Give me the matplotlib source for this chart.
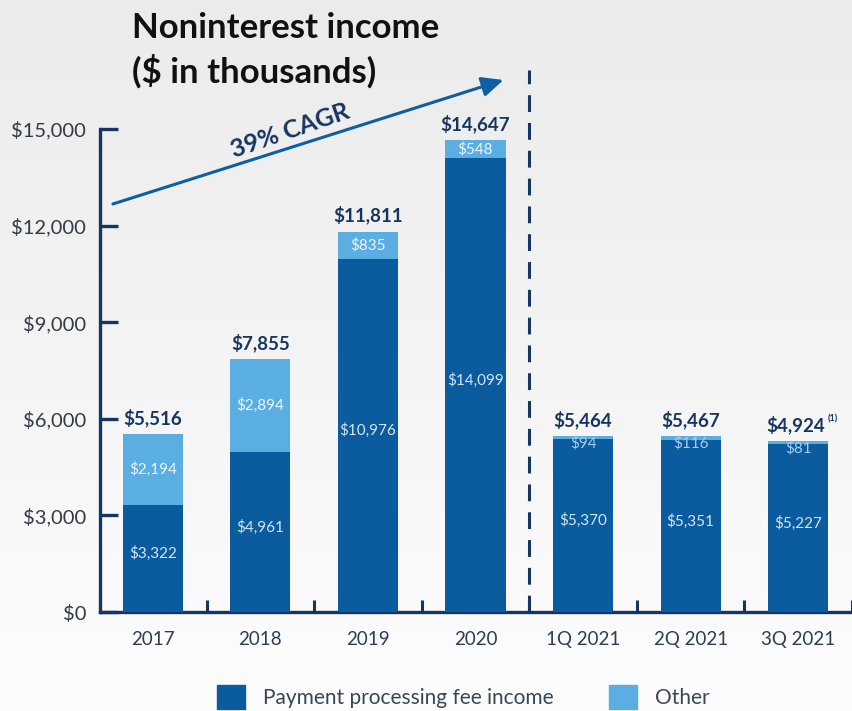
import matplotlib
matplotlib.use("Agg")
import matplotlib.pyplot as plt
import numpy as np
from matplotlib.patches import Patch
from matplotlib.colors import LinearSegmentedColormap

# ---- data ----
categories = ['2017', '2018', '2019', '2020', '1Q 2021', '2Q 2021', '3Q 2021']
payment = [3322, 4961, 10976, 14099, 5370, 5351, 5227]
other = [2194, 2894, 835, 548, 94, 116, 81]
total_labels = ['$5,516', '$7,855', '$11,811', '$14,647', '$5,464', '$5,467', '$4,924']
ytick_values = [0, 3000, 6000, 9000, 12000, 15000]
ytick_labels = ['$0', '$3,000', '$6,000', '$9,000', '$12,000', '$15,000']
legend_labels = ['Payment processing fee income', 'Other']
cagr_text = '39% CAGR'

plt.rcParams['font.family'] = ['Lato', 'DejaVu Sans']

DARK = '#0a5c9f'
LIGHT = '#5aaee2'
NAVY = '#17365f'
TICKTXT = '#333a44'

fig = plt.figure(figsize=(8.52, 7.11), dpi=100)

# background gradient
bg = fig.add_axes([0, 0, 1, 1], zorder=-10)
grad = np.linspace(0, 1, 256).reshape(-1, 1)
cmap = LinearSegmentedColormap.from_list('bg', ['#ebebeb', '#fdfdfd'])
bg.imshow(grad, aspect='auto', cmap=cmap, extent=[0, 1, 0, 1], origin='upper')
bg.set_axis_off()

ax = fig.add_axes([100 / 852, 1 - 612 / 711, 752 / 852, 542 / 711])
ax.patch.set_alpha(0)
x = np.arange(len(categories))
w = 0.56
ax.bar(x, payment, width=w, color=DARK, zorder=3)
ax.bar(x, other, width=w, bottom=payment, color=LIGHT, zorder=3)

ax.set_xlim(-0.49, 6.5)
ax.set_ylim(0, 16830)

for s in ['top', 'right']:
    ax.spines[s].set_visible(False)
for s in ['left', 'bottom']:
    ax.spines[s].set_color(NAVY)
    ax.spines[s].set_linewidth(2.4)
ax.spines['left'].set_bounds(0, 15000)

ax.set_yticks(ytick_values)
ax.set_yticklabels(ytick_labels, fontsize=14.5, color=TICKTXT)
ax.tick_params(axis='y', direction='in', length=13, width=2.4, color=NAVY, pad=10)

ax.set_xticks(x)
ax.set_xticklabels(categories, fontsize=13.5, color='#2f3d52')
ax.tick_params(axis='x', which='major', length=0, pad=14)
ax.set_xticks(np.arange(0.5, 6.6, 1.0), minor=True)
ax.tick_params(axis='x', which='minor', direction='in', length=9, width=2.2, color=NAVY)

# dashed separator
ax.axvline(3.5, ymin=0, ymax=1, color=NAVY, lw=2.2, dashes=(5.5, 3.6), zorder=4, clip_on=False)

# segment labels
for i in range(len(categories)):
    ax.text(x[i], payment[i] / 2 + 150, f'${payment[i]:,}', ha='center', va='center',
            fontsize=11, color='#d3e5f4', zorder=5)
    if other[i] > 400:
        ax.text(x[i], payment[i] + other[i] / 2, f'${other[i]:,}', ha='center', va='center',
                fontsize=11, color='#eef6fc', zorder=5)
    else:
        ax.annotate(f'${other[i]:,}', (x[i], payment[i] + other[i]), xytext=(0, -5),
                    textcoords='offset points', ha='center', va='center',
                    fontsize=11, color='#a8cdee', zorder=5)
    dx = -2 if i == len(categories) - 1 else 0
    ax.annotate(total_labels[i], (x[i], payment[i] + other[i]), xytext=(dx, 5),
                textcoords='offset points', ha='center', va='bottom',
                fontsize=13.5, fontweight='bold', color=NAVY, zorder=5)

# footnote marker on last total
ax.annotate('(1)', (x[-1], payment[-1] + other[-1]), xytext=(21, 13),
            textcoords='offset points', ha='left', va='bottom',
            fontsize=6.5, fontweight='bold', color=NAVY)

# CAGR arrow
ax.annotate('', xy=(3.26, 16520), xytext=(-0.37, 12670),
            arrowprops=dict(arrowstyle='-|>,head_length=1.3,head_width=0.6',
                            color='#0d5ea3', lw=2.2, shrinkA=0, shrinkB=0),
            annotation_clip=False)
ax.text(1.28, 14950, cagr_text, rotation=19, ha='center', va='center',
        fontsize=18, fontweight='bold', color=NAVY, rotation_mode='anchor')

# title
fig.text(132 / 852, 1 - 12 / 711, 'Noninterest income\n($ in thousands)', ha='left', va='top',
         fontsize=25, fontweight='bold', color='#111111', linespacing=1.35)

# legend
handles = [Patch(facecolor=DARK, edgecolor=DARK), Patch(facecolor=LIGHT, edgecolor=LIGHT)]
fig.legend(handles, legend_labels, loc='center', bbox_to_anchor=(0.544, 1 - 697 / 711),
           ncol=2, frameon=False, fontsize=15, handlelength=1.35, handleheight=1.35,
           handletextpad=0.85, columnspacing=2.67, labelcolor='#3a4656')

fig.savefig('out.png', dpi=100)
